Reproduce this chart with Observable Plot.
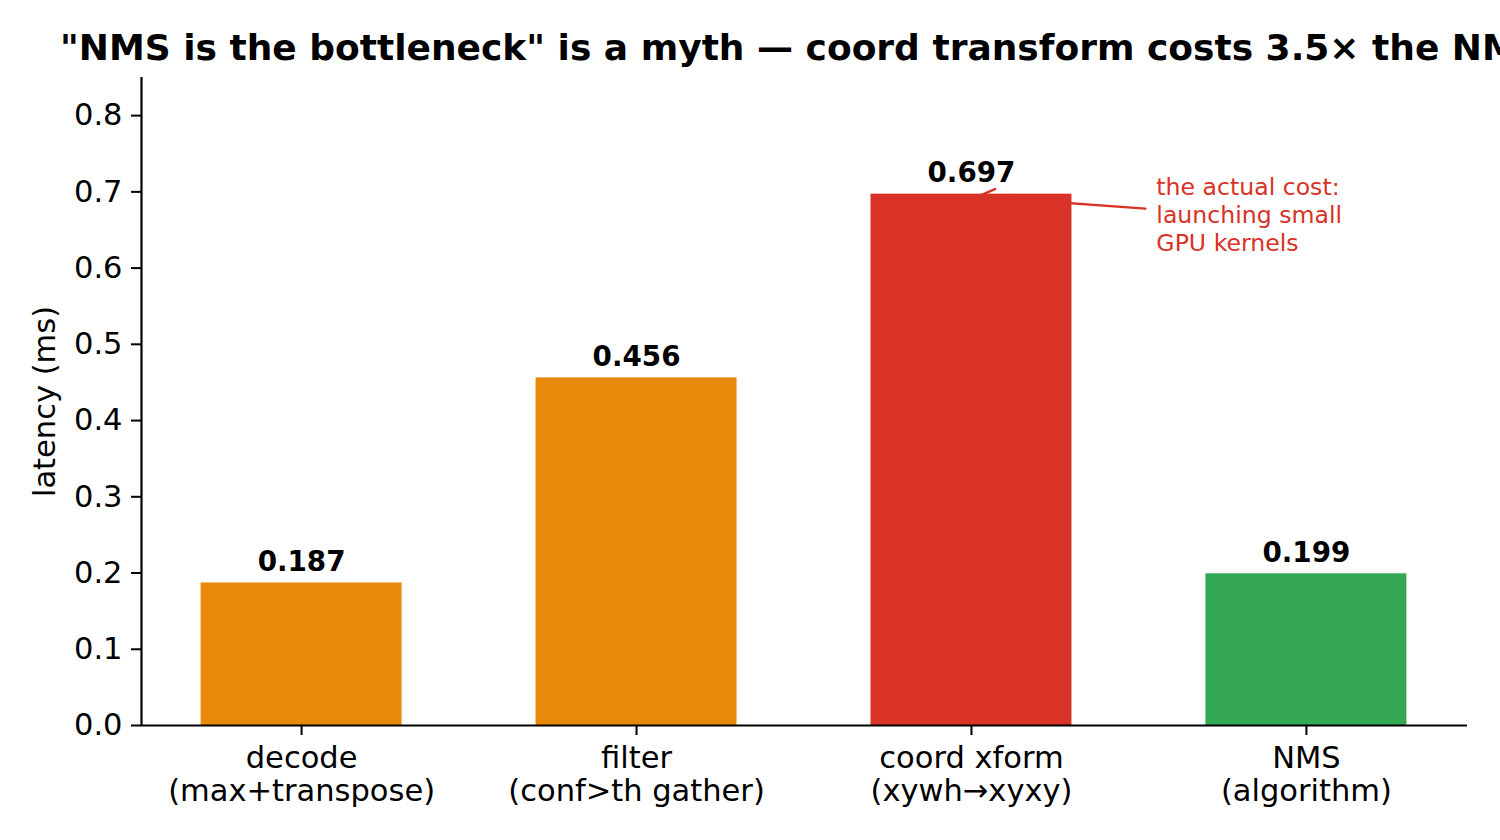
<!DOCTYPE html>
<html>
<head>
<meta charset="utf-8">
<script src="https://cdn.jsdelivr.net/npm/d3@7"></script>
<script src="https://cdn.jsdelivr.net/npm/@observablehq/plot@0.6"></script>
<style>
  html, body { margin: 0; padding: 0; background: #fff; width: 1500px; height: 840px; overflow: hidden; }
  #title-wrap { position: relative; width: 1500px; height: 70px; overflow: hidden; }
  #title { position: absolute; left: 60px; top: 30px; font: bold 36px/36px "DejaVu Sans"; white-space: nowrap; color: #000; }
  #chart svg { display: block; }
</style>
</head>
<body>
<div id="title-wrap"><div id="title">"NMS is the bottleneck" is a myth — coord transform costs 3.5× the NMS</div></div>
<div id="chart"></div>
<script>
// ---- data ----
const categories = ["decode\n(max+transpose)", "filter\n(conf>th gather)", "coord xform\n(xywh→xyxy)", "NMS\n(algorithm)"];
const latency = [0.187, 0.456, 0.697, 0.199];
const valueLabels = ["0.187", "0.456", "0.697", "0.199"];
const barColors = ["#e8890c", "#e8890c", "#d93226", "#34a853"];
const yTicks = [0.0, 0.1, 0.2, 0.3, 0.4, 0.5, 0.6, 0.7, 0.8];
const yLabel = "latency (ms)";
const annotationText = "the actual cost:\nlaunching small\nGPU kernels";

const rows = categories.map((c, i) => ({i, c, v: latency[i], label: valueLabels[i], color: barColors[i]}));
const xDomain = [-0.478, 3.481];
const barHalf = 0.3;
const red = "#d93226";

const chart = Plot.plot({
  width: 1500,
  height: 770,
  marginLeft: 141,
  marginRight: 33,
  marginTop: 7,
  marginBottom: 115,
  style: {fontFamily: "DejaVu Sans", fontSize: "30.5px", color: "#000", background: "#fff", overflow: "visible"},
  x: {type: "linear", domain: xDomain, axis: null},
  y: {domain: [0, 0.85], axis: null},
  color: {type: "identity"},
  marks: [
    Plot.rectY(rows, {x1: d => d.i - barHalf, x2: d => d.i + barHalf, y1: 0, y2: "v", fill: "color"}),
    Plot.axisX({ticks: [0, 1, 2, 3], tickFormat: i => categories[i], tickSize: 10, tickPadding: 9, fontSize: 30.5, lineHeight: 1.09, strokeWidth: 2, label: null}),
    Plot.axisY({ticks: yTicks, tickFormat: d3.format(".1f"), tickSize: 10, tickPadding: 9, fontSize: 30.5, strokeWidth: 2, label: yLabel, labelAnchor: "center", labelOffset: 108, labelArrow: "none"}),
    Plot.ruleY([0], {strokeWidth: 2.2, stroke: "#000"}),
    Plot.ruleX([xDomain[0]], {strokeWidth: 2.2, stroke: "#000"}),
    Plot.text(rows, {x: "i", y: "v", text: "label", dy: -12, lineAnchor: "bottom", fontWeight: "bold", fontSize: 27.8, fill: "#000"}),
    Plot.arrow([{x1: 2.519, y1: 0.678, x2: 2.02, y2: 0.694}], {x1: "x1", y1: "y1", x2: "x2", y2: "y2", stroke: red, strokeWidth: 2.5, headLength: 11, headAngle: 55}),
    Plot.text([{x: 2.552, y: 0.721, t: annotationText}], {x: "x", y: "y", text: "t", textAnchor: "start", lineAnchor: "top", lineHeight: 1.17, fontSize: 23.6, fill: red})
  ]
});
document.getElementById("chart").appendChild(chart);
</script>
</body>
</html>
